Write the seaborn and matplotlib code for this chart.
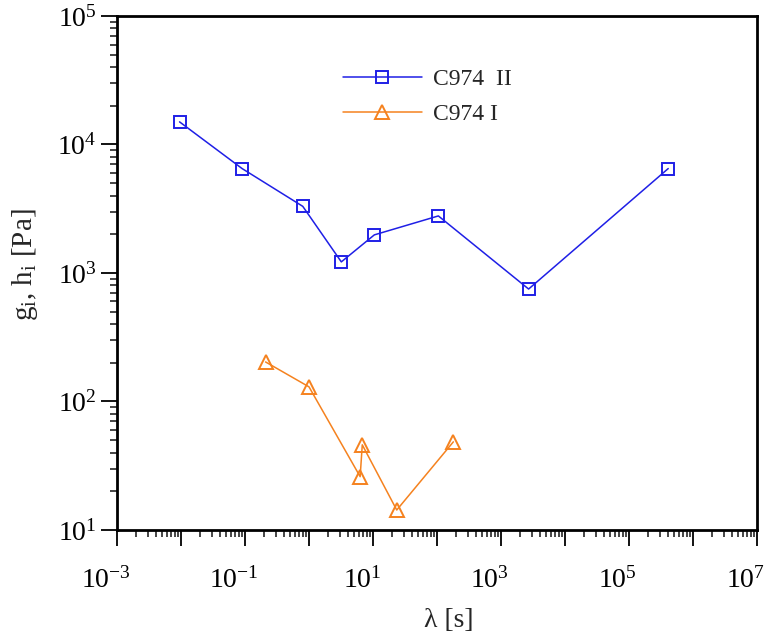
import numpy as np
import matplotlib
matplotlib.use("Agg")
import matplotlib.pyplot as plt
import matplotlib.ticker as mticker
import matplotlib.transforms as mtransforms
import seaborn as sns

# C974 II (blue squares)
lam_ii = [0.0095, 0.09, 0.8, 3.2, 10.5, 105, 2700, 410000]
g_ii = [15000, 6500, 3300, 1220, 1980, 2780, 750, 6500]

# C974 I (orange triangles)
lam_i = [0.21, 1.0, 6.3, 6.8, 23.5, 180]
g_i = [203, 130, 26, 46, 14.3, 48.5]

blue = "#1f1fe6"
orange = "#f5821f"

sns.set_style("ticks")
plt.rcParams['font.family'] = ['Liberation Serif', 'DejaVu Serif']
plt.rcParams['mathtext.default'] = 'regular'

fig = plt.figure(figsize=(7.67, 6.35), dpi=100)
ax = fig.add_axes([0.1525, 0.1654, 0.8345, 0.8094])

sns.lineplot(x=lam_ii, y=g_ii, sort=False, ax=ax, color=blue, lw=1.1,
             marker='s', markersize=9, markerfacecolor='none',
             markeredgecolor=blue, markeredgewidth=1.4, label='C974  II')
sns.lineplot(x=lam_i, y=g_i, sort=False, ax=ax, color=orange, lw=1.1,
             marker='^', markersize=10.5, markerfacecolor='none',
             markeredgecolor=orange, markeredgewidth=1.4, label='C974 I')

ax.set_xscale('log')
ax.set_yscale('log')
ax.set_xlim(1e-3, 1e7)
ax.set_ylim(1e1, 1e5)

fmt = mticker.FuncFormatter(lambda v, p: r"$10^{%d}$" % round(np.log10(v)))
ax.xaxis.set_major_locator(mticker.FixedLocator([10.0 ** k for k in range(-3, 8)]))
ax.xaxis.set_major_formatter(mticker.FuncFormatter(
    lambda v, p: (r"$10^{%d}$" % round(np.log10(v))) if round(np.log10(v)) % 2 else ""))
ax.xaxis.set_minor_locator(mticker.LogLocator(base=10, subs=np.arange(2, 10), numticks=100))
ax.xaxis.set_minor_formatter(mticker.NullFormatter())
ax.yaxis.set_major_locator(mticker.FixedLocator([10.0 ** k for k in range(1, 6)]))
ax.yaxis.set_major_formatter(fmt)
ax.yaxis.set_minor_locator(mticker.LogLocator(base=10, subs=np.arange(2, 10), numticks=100))
ax.yaxis.set_minor_formatter(mticker.NullFormatter())

ax.tick_params(which='major', direction='out', length=11.5, width=1.3, labelsize=20,
               colors='black')
ax.tick_params(axis='x', which='major', pad=15)
ax.tick_params(axis='y', which='major', pad=3)
ax.tick_params(which='minor', direction='out', length=5, width=1.2)
ax.tick_params(top=False, right=False, which='both')
for s in ax.spines.values():
    s.set_linewidth(2.0)
    s.set_color('black')

# x tick labels sit a little left of their ticks in the original
shift = mtransforms.ScaledTranslation(-8 / 72, 0, fig.dpi_scale_trans)
for lab in ax.get_xticklabels():
    lab.set_transform(lab.get_transform() + shift)

ax.set_xlabel(r"λ [s]", fontsize=20)
ax.set_ylabel(r"g$_{i}$, h$_{i}$ [Pa]", fontsize=21)
ax.xaxis.set_label_coords(0.519, -0.152)
ax.yaxis.set_label_coords(-0.120, 0.5155)

ax.legend(loc='upper left', bbox_to_anchor=(0.353, 0.897), frameon=False,
          fontsize=17, handlelength=3.35, handletextpad=0.45, labelspacing=0.55,
          borderaxespad=0, borderpad=0)

fig.savefig('out.png', dpi=100)
